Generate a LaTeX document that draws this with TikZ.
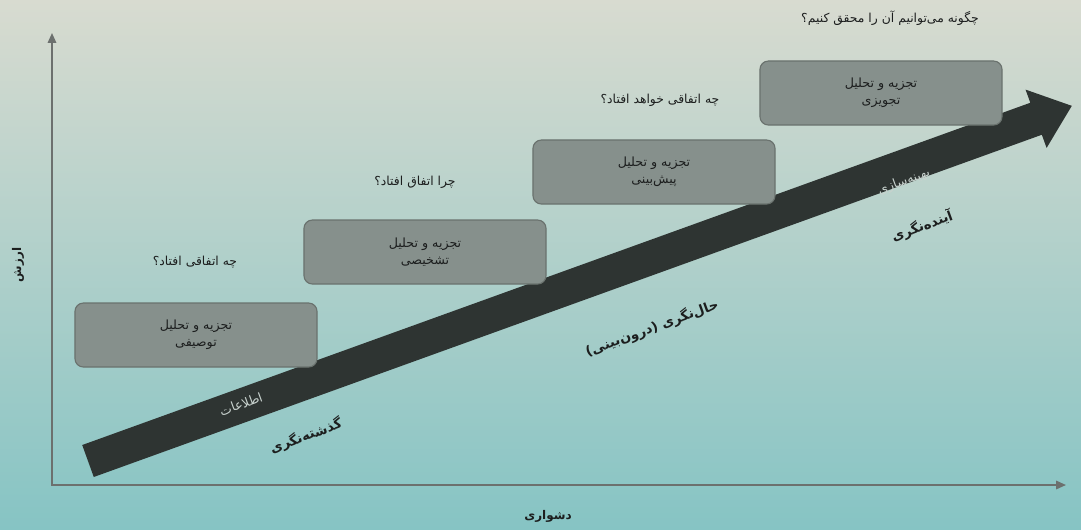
\documentclass[tikz,border=0pt]{standalone}
\usepackage{fontspec}
\newfontfamily\fa[Script=Arabic]{DejaVu Sans}
\TeXXeTstate=1
\usetikzlibrary{arrows.meta,calc}
\definecolor{bgtop}{RGB}{216,219,208}
\definecolor{bgbottom}{RGB}{134,196,196}
\definecolor{boxfill}{RGB}{134,144,140}
\definecolor{boxline}{RGB}{106,114,110}
\definecolor{flowdark}{RGB}{46,52,50}
\definecolor{axisgray}{RGB}{108,112,110}
\definecolor{inktext}{RGB}{28,30,30}
\definecolor{flowtext}{RGB}{200,210,206}
\newcommand{\rl}[1]{\beginR#1\endR}
\tikzset{
  anabox/.style={draw=boxline, line width=0.8pt, fill=boxfill, rounded corners=6pt, minimum width=6.05cm, minimum height=1.6cm, align=center, font=\fa\fontsize{9}{12}\selectfont, text=inktext},
  question/.style={font=\fa\fontsize{8.8}{10}\selectfont, text=inktext},
  eralabel/.style={font=\fa\bfseries\fontsize{9.5}{11}\selectfont, text=inktext, rotate=20},
  onflow/.style={font=\fa\fontsize{9}{10}\selectfont, text=flowtext, rotate=20},
  axislabel/.style={font=\fa\bfseries\fontsize{8.5}{10}\selectfont, text=inktext},
  axis/.style={draw=axisgray, line width=1.1pt, {Triangle[length=7pt,width=6pt]}-{Triangle[length=7pt,width=6pt]}}
}

\begin{document}
\begin{tikzpicture}[x=0.025cm, y=-0.025cm]
  % background
  \fill[top color=bgtop, bottom color=bgbottom] (0,0) rectangle (1081,529);

  % axes
  \coordinate (ytop) at (52,33);
  \coordinate (origin) at (52,485);
  \coordinate (xend) at (1066,485);
  \draw[axis] (ytop) -- (origin) -- (xend);
  \node[axislabel, rotate=90] (value) at (18,265) {\rl{ارزش}};
  \node[axislabel] (difficulty) at (548,516) {\rl{دشواری}};

  % big arrow
  \coordinate (tail) at (88,461);
  \coordinate (tip) at (1072,106);
  \begin{scope}[shift={(tail)}, rotate=19.85]
    \fill[flowdark] (0,-17) -- (1008,-17) -- (1008,-31) -- (1046,0)
      -- (1008,31) -- (1008,17) -- (0,17) -- cycle;
  \end{scope}
  \node[onflow] (info) at (241,404) {\rl{اطلاعات}};
  \node[onflow] (optim) at (904,182) {\rl{بهینه‌سازی}};

  \node[eralabel] (past) at (306,436) {\rl{گذشته‌نگری}};
  \node[eralabel] (present) at (652,328) {\rl{حال‌نگری (درون‌بینی)}};
  \node[eralabel] (future) at (922,226) {\rl{آینده‌نگری}};

  % analytics boxes
  \node[anabox] (desc) at (196,335) {\rl{تجزیه و تحلیل}\\\rl{توصیفی}};
  \node[anabox] (diag) at (425,252) {\rl{تجزیه و تحلیل}\\\rl{تشخیصی}};
  \node[anabox] (pred) at (654,172) {\rl{تجزیه و تحلیل}\\\rl{پیش‌بینی}};
  \node[anabox] (presc) at (881,93) {\rl{تجزیه و تحلیل}\\\rl{تجویزی}};

  % questions
  \node[question] (q1) at (195,262) {\rl{چه اتفاقی افتاد؟}};
  \node[question] (q2) at (415,182) {\rl{چرا اتفاق افتاد؟}};
  \node[question] (q3) at (660,100) {\rl{چه اتفاقی خواهد افتاد؟}};
  \node[question] (q4) at (890,18) {\rl{چگونه می‌توانیم آن را محقق کنیم؟}};
\end{tikzpicture}
\end{document}
